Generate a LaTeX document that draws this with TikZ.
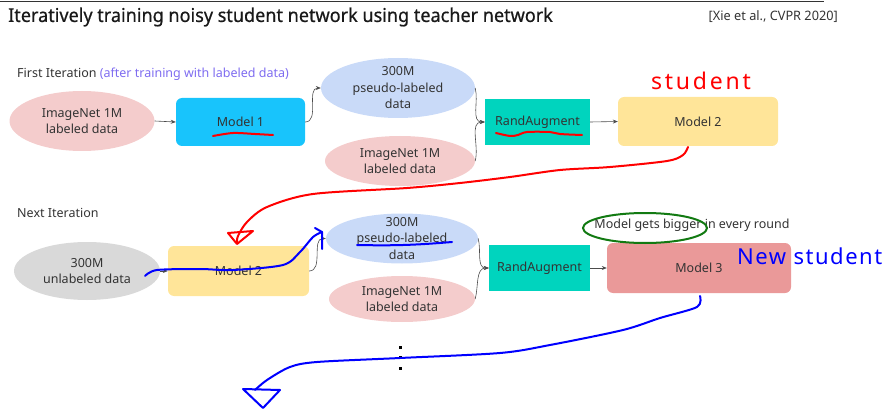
\documentclass[tikz,border=0pt]{standalone}
\usepackage{fontspec}
\setmainfont{Noto Sans}
\newfontfamily\titlefont[FakeStretch=0.95, FakeBold=0.6]{Noto Sans}
\newfontfamily\citefont[FakeStretch=0.98]{Noto Sans}
\newfontfamily\handfont[LetterSpace=12]{Noto Sans}
\newfontfamily\handfontb[LetterSpace=7]{Noto Sans}
\usetikzlibrary{shapes.geometric,arrows.meta}
\definecolor{tinta}{HTML}{333333}
\definecolor{rosa}{HTML}{F4CCCC}
\definecolor{azulclaro}{HTML}{C9DAF8}
\definecolor{celeste}{HTML}{18C4FC}
\definecolor{turquesa}{HTML}{00D4BE}
\definecolor{amarillo}{HTML}{FFE599}
\definecolor{salmon}{HTML}{EA9999}
\definecolor{gris}{HTML}{D9D9D9}
\definecolor{morado}{HTML}{7E6CF0}
\definecolor{verde}{HTML}{127A12}
\tikzset{
  txt/.style={font=\fontsize{12.5}{16.5}\selectfont, text=tinta, align=center},
  elipse/.style={ellipse, inner sep=-6pt, txt},
  caja/.style={rectangle, rounded corners=6pt, inner sep=0pt, txt},
  cajaplana/.style={rectangle, inner sep=0pt, txt},
  flecha/.style={draw=black!70, line width=0.6pt, -{Stealth[length=5pt,width=4pt]}},
  trazo/.style={line width=2pt, line cap=round, line join=round},
}
\begin{document}
\begin{tikzpicture}[x=1pt, y=-1pt]
  \useasboundingbox (0,0) rectangle (889,409);

  % Título
  \draw[black!80, line width=1pt] (0,2) -- (824,2);
  \node[anchor=west, inner sep=0pt, text=black!90, font=\titlefont\fontsize{19}{22}\selectfont] (titulo) at (8,17)
    {Iteratively training noisy student network using teacher network};
  \node[anchor=east, inner sep=0pt, text=tinta, font=\citefont\fontsize{13}{15}\selectfont] (cita) at (838,17)
    {[Xie et al., CVPR 2020]};

  % Primera iteración
  \node[txt, anchor=west, inner sep=0pt] (iter1) at (17,74)
    {First Iteration \textcolor{morado}{(after training with labeled data)}};
  \node[elipse, fill=rosa, minimum width=145pt, minimum height=60pt] (inet1) at (82,121) {ImageNet 1M\\labeled data};
  \node[caja, fill=celeste, minimum width=129pt, minimum height=48pt] (mod1) at (240.5,122) {Model 1};
  \node[elipse, fill=azulclaro, minimum width=154pt, minimum height=60pt] (ps1) at (398,88) {300M\\pseudo-labeled\\data};
  \node[elipse, fill=rosa, minimum width=150pt, minimum height=50pt] (inet2) at (400,161) {ImageNet 1M\\labeled data};
  \node[cajaplana, fill=turquesa, minimum width=105pt, minimum height=46pt] (ra1) at (537.5,122) {RandAugment};
  \node[caja, fill=amarillo, minimum width=160pt, minimum height=49pt] (mod2) at (698,121.5) {Model 2};

  \draw[flecha] (inet1.east) -- (mod1.west);
  \draw[flecha] (mod1.east) to[out=0, in=180] (ps1.west);
  \draw[flecha] (ps1.east) to[out=-75, in=180] (ra1.west);
  \draw[flecha] (inet2.east) to[out=75, in=180] (ra1.west);
  \draw[flecha] (ra1.east) -- (mod2.west);

  % Siguiente iteración
  \node[txt, anchor=west, inner sep=0pt] (iter2) at (17,213) {Next Iteration};
  \node[elipse, fill=gris, minimum width=146pt, minimum height=58pt] (unl) at (87,271) {300M\\unlabeled data};
  \node[caja, fill=amarillo, minimum width=141pt, minimum height=50pt] (mod2b) at (238.5,271) {Model 2};
  \node[elipse, fill=azulclaro, minimum width=152pt, minimum height=50pt] (ps2) at (402,238.5) {300M\\pseudo-labeled\\data};
  \node[elipse, fill=rosa, minimum width=146pt, minimum height=46pt] (inet3) at (402,299) {ImageNet 1M\\labeled data};
  \node[cajaplana, fill=turquesa, minimum width=101pt, minimum height=46pt] (ra2) at (539.5,268) {RandAugment};
  \node[caja, fill=salmon, minimum width=184pt, minimum height=50pt] (mod3) at (699,268) {Model 3};
  \node[txt, inner sep=0pt] (bigger) at (692,225) {Model gets bigger in every round};

  \draw[flecha] (unl.east) -- (mod2b.west);
  \draw[flecha] (mod2b.east) to[out=0, in=180] (ps2.west);
  \draw[flecha] (ps2.east) to[out=-75, in=180] (ra2.west);
  \draw[flecha] (inet3.east) to[out=75, in=180] (ra2.west);
  \draw[flecha] (ra2.east) -- (mod3.west);

  % Puntos
  \foreach \y in {347,357,368}
    \fill (398.5,\y-1.5) rectangle (401.5,\y+1.5);

  % Anotaciones a mano
  \draw[trazo, red] plot[smooth] coordinates {(213,136) (233,133) (255,134) (273,135)};
  \draw[trazo, red] plot[smooth] coordinates {(496,133) (510,136) (518,135) (527,132) (550,132) (560,134) (582,135)};
  \node[text=red, font=\handfont\fontsize{23}{26}\selectfont, inner sep=0pt] (alumno) at (701,81) {student};
  \draw[trazo, red] plot[smooth] coordinates {(688,147) (683,155) (667,161) (610,167) (560,170) (510,177)
    (460,183) (407,188) (313,194) (267,207) (247,222) (238,236) (237,243)};
  \draw[trazo, red] (228,233) -- (253,231) -- (237,244) -- cycle;

  \draw[trazo, blue] plot[smooth] coordinates {(145,276) (157,270) (200,269) (233,270) (283,265) (300,252) (313,237) (322,232)};
  \draw[trazo, blue] (315,228) -- (322,232) -- (322,249);
  \draw[trazo, blue] (357,245) to[bend right=3] (452,242);
  \draw[verde, line width=2pt] (645,228) ellipse [x radius=62pt, y radius=15pt];
  \node[text=blue, font=\handfontb\fontsize{22}{25}\selectfont, inner sep=0pt, anchor=west] (nuevo) at (737,256) {New student};
  \draw[trazo, blue] plot[smooth] coordinates {(700,296) (697,307) (660,318) (623,330) (550,345) (500,353)
    (400,358) (317,362) (290,367) (267,380) (255,390)};
  \draw[trazo, blue] (243,389) -- (280,390) -- (263,408) -- cycle;
\end{tikzpicture}
\end{document}
